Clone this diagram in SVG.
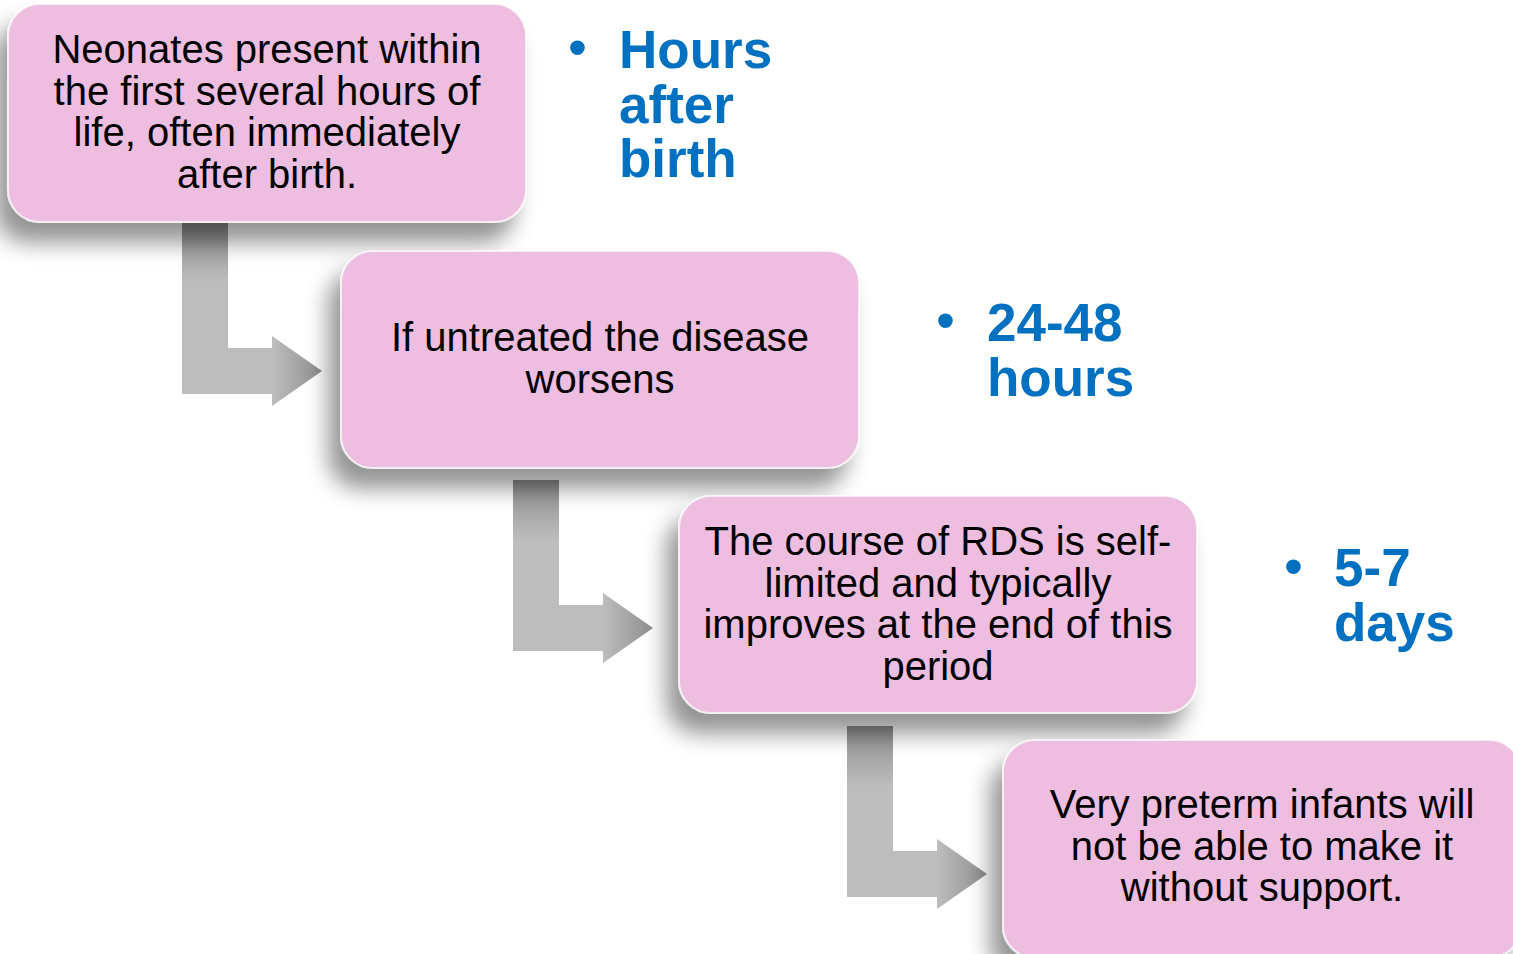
<svg xmlns="http://www.w3.org/2000/svg" width="1513" height="954" viewBox="0 0 1513 954">
<defs>
<filter id="sh" x="-20%" y="-20%" width="140%" height="160%">
<feDropShadow dx="-12" dy="20" stdDeviation="11" flood-color="#000" flood-opacity="0.42"/>
</filter>
<linearGradient id="vg" x1="0" y1="0" x2="0" y2="1">
<stop offset="0" stop-color="#8c8c8c"/>
<stop offset="0.35" stop-color="#bdbdbd"/>
<stop offset="1" stop-color="#bdbdbd"/>
</linearGradient>
<linearGradient id="hg" x1="0" y1="0" x2="1" y2="0">
<stop offset="0" stop-color="#bdbdbd"/>
<stop offset="1" stop-color="#8e8e8e"/>
</linearGradient>
<g id="arrow">
<rect x="0" y="0" width="46" height="171" fill="url(#vg)"/>
<rect x="0" y="125" width="92" height="46" fill="#bdbdbd"/>
<polygon points="90,113 140,148 90,183" fill="url(#hg)"/>
</g>
</defs>
<style>
.box{fill:#EDBEDF;stroke:#ffffff;stroke-opacity:0.7;stroke-width:2;filter:url(#sh)}
.t{font-family:"Liberation Sans",Arial,sans-serif;font-size:40px;fill:#000;text-anchor:middle}
.b{font-family:"Liberation Sans",Arial,sans-serif;font-size:53px;font-weight:bold;fill:#0070C0}
.bul{font-family:"Liberation Sans",Arial,sans-serif;font-size:54px;fill:#0070C0}
</style>
<g id="connectors">
<use href="#arrow" x="182" y="223"/>
<use href="#arrow" x="513" y="480"/>
<use href="#arrow" x="847" y="726"/>
</g>
<g id="node1">
<rect class="box" x="8" y="4" width="518" height="218" rx="32"/>
<text class="t" x="267" y="63">Neonates present within</text>
<text class="t" x="267" y="105">the first several hours of</text>
<text class="t" x="267" y="146">life, often immediately</text>
<text class="t" x="267" y="188">after birth.</text>
</g>
<g id="node2">
<rect class="box" x="341" y="251" width="518" height="217" rx="32"/>
<text class="t" x="600" y="351">If untreated the disease</text>
<text class="t" x="600" y="393">worsens</text>
</g>
<g id="node3">
<rect class="box" x="679" y="496" width="518" height="217" rx="32"/>
<text class="t" x="938" y="555">The course of RDS is self-</text>
<text class="t" x="938" y="597">limited and typically</text>
<text class="t" x="938" y="638">improves at the end of this</text>
<text class="t" x="938" y="680">period</text>
</g>
<g id="node4">
<rect class="box" x="1003" y="740" width="518" height="218" rx="32"/>
<text class="t" x="1262" y="818">Very preterm infants will</text>
<text class="t" x="1262" y="860">not be able to make it</text>
<text class="t" x="1262" y="901">without support.</text>
</g>
<g id="label1">
<text class="bul" x="568" y="66">•</text>
<text class="b" x="619" y="68">Hours</text>
<text class="b" x="619" y="123">after</text>
<text class="b" x="619" y="177">birth</text>
</g>
<g id="label2">
<text class="bul" x="936" y="339">•</text>
<text class="b" x="987" y="341">24-48</text>
<text class="b" x="987" y="396">hours</text>
</g>
<g id="label3">
<text class="bul" x="1284" y="585">•</text>
<text class="b" x="1334" y="586">5-7</text>
<text class="b" x="1334" y="641">days</text>
</g>
</svg>
